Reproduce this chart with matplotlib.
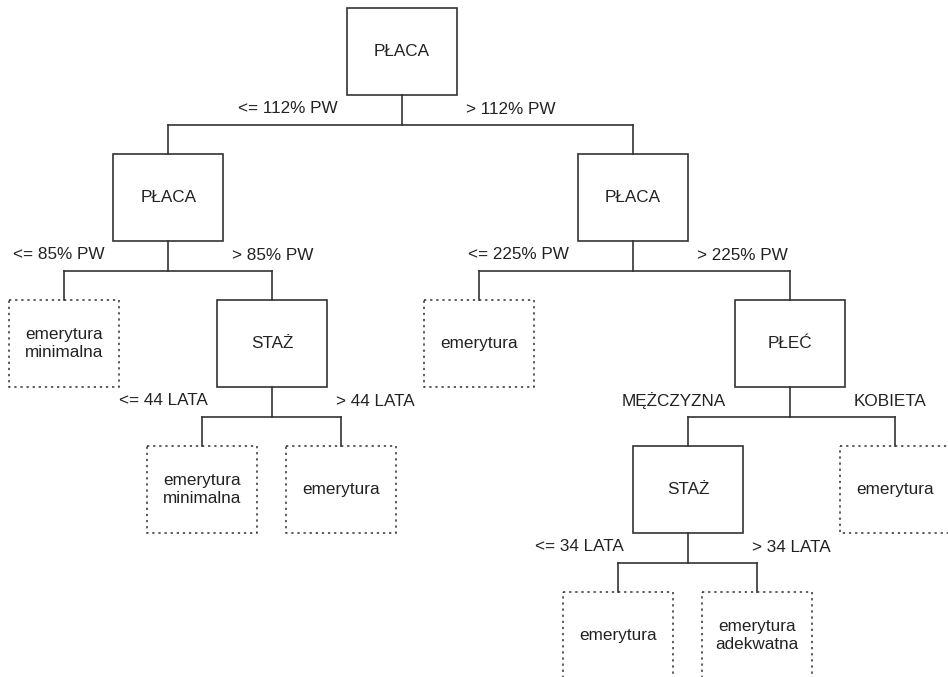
import matplotlib.pyplot as plt
from matplotlib.patches import Rectangle

plt.rcParams['font.family'] = ['Liberation Sans', 'DejaVu Sans']

# tree data
node_labels = ["PŁACA", "PŁACA", "PŁACA",
               "emerytura\nminimalna", "STAŻ", "emerytura", "PŁEĆ",
               "emerytura\nminimalna", "emerytura", "STAŻ", "emerytura",
               "emerytura", "emerytura\nadekwatna"]
parents = [None, 0, 0, 1, 1, 2, 2, 4, 4, 6, 6, 9, 9]
edge_labels = [None, "<= 112% PW", "> 112% PW", "<= 85% PW", "> 85% PW",
               "<= 225% PW", "> 225% PW", "<= 44 LATA", "> 44 LATA",
               "MĘŻCZYZNA", "KOBIETA", "<= 34 LATA", "> 34 LATA"]

# layout (pixel space): box centre x, box top y
layout = {0: (402, 8), 1: (168.5, 154), 2: (633, 154),
          3: (64.5, 300), 4: (272, 300), 5: (479, 300), 6: (790, 300),
          7: (202.5, 446), 8: (341.5, 446), 9: (688, 446), 10: (895, 446),
          11: (618, 592), 12: (757, 592)}
BW, BH = 110, 87
LINE = '#333333'
TXT = '#222222'

fig = plt.figure(figsize=(9.48, 6.77), dpi=100)
ax = fig.add_axes([0, 0, 1, 1])
ax.set_xlim(0, 948)
ax.set_ylim(677, 0)
ax.axis('off')

has_child = set(p for p in parents if p is not None)

for i, lab in enumerate(node_labels):
    cx, top = layout[i]
    if i in has_child:
        ax.add_patch(Rectangle((cx - BW / 2, top), BW, BH, fill=False,
                               edgecolor=LINE, lw=1.2))
    else:
        ax.add_patch(Rectangle((cx - BW / 2, top), BW, BH, fill=False,
                               edgecolor=LINE, lw=1.1, linestyle=(0, (1.5, 2.5))))
    ax.text(cx, top + BH / 2, lab, ha='center', va='center', fontsize=12.3,
            color=TXT, linespacing=1.3, multialignment='center')

# connectors
for p in sorted(has_child):
    kids = [i for i, q in enumerate(parents) if q == p]
    px, ptop = layout[p]
    bar = min(layout[k][1] for k in kids) - 29.5
    ax.plot([px, px], [ptop + BH, bar], color=LINE, lw=1.2)
    xs = [layout[k][0] for k in kids]
    ax.plot([min(xs), max(xs)], [bar, bar], color=LINE, lw=1.2)
    for k in kids:
        kx, ktop = layout[k]
        ax.plot([kx, kx], [bar, ktop], color=LINE, lw=1.2)
        if kx < px:
            ax.text(px - 64, bar - 16, edge_labels[k], ha='right', va='center',
                    fontsize=12.3, color=TXT)
        else:
            ax.text(px + 64, bar - 15, edge_labels[k], ha='left', va='center',
                    fontsize=12.3, color=TXT)

fig.savefig('out.png', dpi=100)
